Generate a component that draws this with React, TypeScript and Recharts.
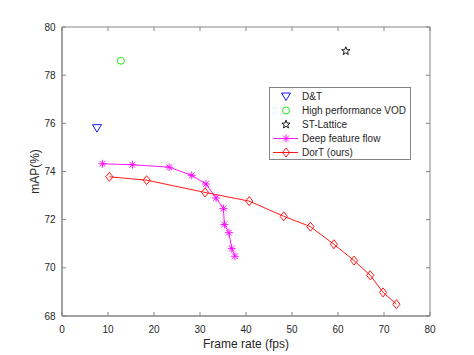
import { LineChart, Line, XAxis, YAxis, Legend, ReferenceArea } from 'recharts';

const dtFps = [7.6];
const dtMap = [75.8];
const hpvodFps = [12.8];
const hpvodMap = [78.6];
const latticeFps = [61.7];
const latticeMap = [79.0];
const dffFps = [8.8, 15.3, 23.3, 28.2, 31.3, 33.5, 35.1, 35.3, 36.3, 36.9, 37.6];
const dffMap = [74.32, 74.28, 74.18, 73.84, 73.48, 72.9, 72.46, 71.8, 71.46, 70.8, 70.48];
const dortFps = [10.3, 18.4, 31.1, 40.7, 48.2, 54.0, 59.1, 63.5, 67.0, 69.8, 72.7];
const dortMap = [73.78, 73.64, 73.13, 72.77, 72.14, 71.71, 70.98, 70.3, 69.69, 68.98, 68.49];

const xTicks = [0, 10, 20, 30, 40, 50, 60, 70, 80];
const yTicks = [68, 70, 72, 74, 76, 78, 80];

const toRows = (fps: number[], map: number[]) => fps.map((f, i) => ({ fps: f, map: map[i] }));

const SERIES = [
  { name: 'D&T', data: toRows(dtFps, dtMap), color: '#0000ff', marker: 'tri', line: false },
  { name: 'High performance VOD', data: toRows(hpvodFps, hpvodMap), color: '#00ee00', marker: 'circle', line: false },
  { name: 'ST-Lattice', data: toRows(latticeFps, latticeMap), color: '#000000', marker: 'star', line: false },
  { name: 'Deep feature flow', data: toRows(dffFps, dffMap), color: '#ff00ff', marker: 'ast', line: true },
  { name: 'DorT (ours)', data: toRows(dortFps, dortMap), color: '#ff0000', marker: 'diamond', line: true },
];

const W = 474;
const H = 355;
const M = { top: 27, right: 44, bottom: 0, left: 0 };
const YW = 62;
const XH = 39;
const PLOT_H = H - M.top - XH;
const PLOT_W = W - YW - M.right;
const AXIS = '#858585';
const TXT = '#262626';
const FONT = '"Liberation Sans", Arial, Helvetica, sans-serif';
const TICK = 4;

function Marker({ kind, cx, cy, color }: { kind: string; cx: number; cy: number; color: string }) {
  const sw = 0.9;
  if (kind === 'tri') {
    return <polygon points={`${cx - 4.5},${cy - 3.5} ${cx + 4.5},${cy - 3.5} ${cx},${cy + 4}`} fill="none" stroke={color} strokeWidth={sw} />;
  }
  if (kind === 'circle') {
    return <circle cx={cx} cy={cy} r={3.5} fill="none" stroke={color} strokeWidth={sw} />;
  }
  if (kind === 'star') {
    const pts: string[] = [];
    for (let i = 0; i < 10; i++) {
      const r = i % 2 === 0 ? 4.3 : 1.8;
      const a = -Math.PI / 2 + (i * Math.PI) / 5;
      pts.push(`${cx + r * Math.cos(a)},${cy + r * Math.sin(a)}`);
    }
    return <polygon points={pts.join(' ')} fill="none" stroke={color} strokeWidth={sw} />;
  }
  if (kind === 'ast') {
    const r = 4;
    const d = 2.9;
    return (
      <g stroke={color} strokeWidth={sw}>
        <line x1={cx - r} y1={cy} x2={cx + r} y2={cy} />
        <line x1={cx} y1={cy - r} x2={cx} y2={cy + r} />
        <line x1={cx - d} y1={cy - d} x2={cx + d} y2={cy + d} />
        <line x1={cx - d} y1={cy + d} x2={cx + d} y2={cy - d} />
      </g>
    );
  }
  return <polygon points={`${cx},${cy - 4.5} ${cx + 3.6},${cy} ${cx},${cy + 4.5} ${cx - 3.6},${cy}`} fill="none" stroke={color} strokeWidth={sw} />;
}

// ticks point inward like matlab, on both sides of the box
function XTick(props: any) {
  const { x, y, payload } = props;
  const axisY = y - 6;
  return (
    <g>
      <line x1={x} y1={axisY} x2={x} y2={axisY - TICK} stroke={AXIS} />
      <line x1={x} y1={axisY - PLOT_H} x2={x} y2={axisY - PLOT_H + TICK} stroke={AXIS} />
      <text x={x} y={axisY + 16.5} textAnchor="middle" fill={TXT} fontSize={10} fontFamily={FONT}>
        {payload.value}
      </text>
    </g>
  );
}

function YTick(props: any) {
  const { x, y, payload } = props;
  const axisX = x + 6;
  return (
    <g>
      <line x1={axisX} y1={y} x2={axisX + TICK} y2={y} stroke={AXIS} />
      <line x1={axisX + PLOT_W} y1={y} x2={axisX + PLOT_W - TICK} y2={y} stroke={AXIS} />
      <text x={axisX - 6.5} y={y + 3.6} textAnchor="end" fill={TXT} fontSize={10} fontFamily={FONT}>
        {payload.value}
      </text>
    </g>
  );
}

function renderLegend() {
  return (
    <svg width={143} height={74} style={{ display: 'block' }}>
      <rect x={0.5} y={0.5} width={141} height={72} fill="#fff" stroke={AXIS} />
      {SERIES.map((s, i) => {
        const cy = 9.5 + i * 14;
        return (
          <g key={s.name}>
            {s.line && <line x1={4} y1={cy} x2={29} y2={cy} stroke={s.color} strokeWidth={0.9} />}
            <Marker kind={s.marker} cx={17} cy={cy} color={s.color} />
            <text x={33} y={cy + 3.6} fontSize={10} fontFamily={FONT} fill={TXT}>
              {s.name}
            </text>
          </g>
        );
      })}
    </svg>
  );
}

export default function App() {
  return (
    <div style={{ position: 'absolute', left: 0, top: 0, width: W, height: H, background: '#fff' }}>
      <LineChart width={W} height={H} margin={M}>
        <XAxis
          dataKey="fps"
          type="number"
          domain={[0, 80]}
          ticks={xTicks}
          allowDataOverflow
          height={XH}
          tickSize={0}
          tickMargin={6}
          tick={<XTick />}
          axisLine={{ stroke: AXIS }}
          label={{
            content: ({ viewBox }: any) => (
              <text x={viewBox.x + viewBox.width / 2} y={viewBox.y + 31.5} textAnchor="middle" fill={TXT} fontSize={12} fontFamily={FONT}>
                Frame rate (fps)
              </text>
            ),
          }}
        />
        <YAxis
          dataKey="map"
          type="number"
          domain={[68, 80]}
          ticks={yTicks}
          allowDataOverflow
          width={YW}
          tickSize={0}
          tickMargin={6}
          tick={<YTick />}
          axisLine={{ stroke: AXIS }}
          label={{
            content: ({ viewBox }: any) => (
              <text
                transform={`translate(${viewBox.x + 35},${viewBox.y + viewBox.height / 2}) rotate(-90)`}
                textAnchor="middle"
                dominantBaseline="central"
                fill={TXT}
                fontSize={12}
                fontFamily={FONT}
              >
                mAP(%)
              </text>
            ),
          }}
        />
        <ReferenceArea x1={0} x2={80} y1={68} y2={80} fill="none" stroke={AXIS} strokeWidth={1} ifOverflow="visible" />
        {SERIES.map((s) => (
          <Line
            key={s.name}
            data={s.data}
            dataKey="map"
            name={s.name}
            stroke={s.line ? s.color : 'none'}
            strokeWidth={0.9}
            isAnimationActive={false}
            dot={(p: any) => <Marker key={`${s.name}-${p.index}`} kind={s.marker} cx={p.cx} cy={p.cy} color={s.color} />}
            activeDot={false}
          />
        ))}
        <Legend
          layout="vertical"
          align="center"
          verticalAlign="middle"
          content={renderLegend}
          wrapperStyle={{ left: 269, top: 87, width: 143, height: 74 }}
        />
      </LineChart>
    </div>
  );
}
